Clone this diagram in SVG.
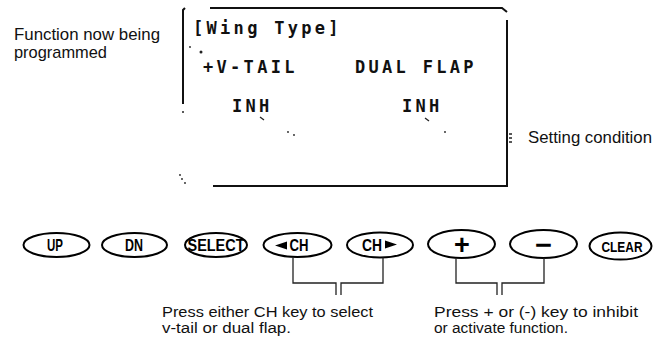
<svg xmlns="http://www.w3.org/2000/svg" width="653" height="346" viewBox="0 0 653 346">
<style>
.lbl{font-family:"Liberation Sans",Arial,sans-serif;font-size:17px;fill:#111}
.cap{font-family:"Liberation Sans",Arial,sans-serif;font-size:15.5px;fill:#111}
.lcd{font-family:"DejaVu Sans Mono","Liberation Mono",monospace;font-weight:bold;font-size:17px;letter-spacing:3.3px;fill:#111}
.key{fill:#fff;stroke:#000;stroke-width:2}
.keyt{font-family:"Liberation Sans",Arial,sans-serif;font-weight:bold;font-size:16.5px;fill:#000;text-anchor:middle}
.big{font-size:27px}
.ln{fill:none;stroke:#222;stroke-width:1.3}
.frame{fill:none;stroke:#111;stroke-width:2}
.dot{fill:#222}
</style>
<rect width="653" height="346" fill="#fff"/>
<g id="lcd">
<path class="frame" d="M210 8 H502 L507 12"/>
<path class="frame" d="M185 8 L183 10 V104"/>
<path class="frame" d="M213 186 H507 V20"/>
<path class="ln" d="M509 134 h3 M509 138 h3 M509 142 h3"/>
<text class="lcd" x="193" y="34">[Wing Type]</text>
<text class="lcd" x="203" y="73">+V-TAIL</text>
<text class="lcd" x="355" y="73">DUAL FLAP</text>
<text class="lcd" x="232" y="112">INH</text>
<text class="lcd" x="402" y="112">INH</text>
<circle class="dot" cx="190" cy="47" r="0.9"/>
<circle class="dot" cx="201" cy="52" r="1.5"/>
<circle class="dot" cx="183" cy="112" r="1"/>
<path class="ln" d="M260 117 L264 120"/>
<circle class="dot" cx="288" cy="132" r="0.9"/>
<circle class="dot" cx="294" cy="135" r="0.9"/>
<path class="ln" d="M425 118 L429 121"/>
<circle class="dot" cx="445" cy="132" r="0.9"/>
<circle class="dot" cx="180" cy="175" r="0.9"/>
<circle class="dot" cx="182" cy="179" r="0.9"/>
<circle class="dot" cx="185" cy="183" r="0.9"/>
</g>
<g id="labels">
<text class="lbl" x="14" y="40" textLength="146" lengthAdjust="spacingAndGlyphs">Function now being</text>
<text class="lbl" x="14" y="58" textLength="93" lengthAdjust="spacingAndGlyphs">programmed</text>
<text class="lbl" x="528" y="143" textLength="124" lengthAdjust="spacingAndGlyphs">Setting condition</text>
<text class="cap" x="162" y="317" textLength="211" lengthAdjust="spacingAndGlyphs">Press either CH key to select</text>
<text class="cap" x="162" y="333" textLength="129" lengthAdjust="spacingAndGlyphs">v-tail or dual flap.</text>
<text class="cap" x="434" y="317" textLength="204" lengthAdjust="spacingAndGlyphs">Press + or (-) key to inhibit</text>
<text class="cap" x="434" y="333" textLength="134" lengthAdjust="spacingAndGlyphs">or activate function.</text>
</g>
<g id="key-up"><ellipse class="key" cx="56.5" cy="245" rx="33" ry="12"/><text class="keyt" x="55" y="251" textLength="16" lengthAdjust="spacingAndGlyphs">UP</text></g>
<g id="key-dn"><ellipse class="key" cx="134.5" cy="245" rx="32.5" ry="12"/><text class="keyt" x="134" y="251" textLength="18" lengthAdjust="spacingAndGlyphs">DN</text></g>
<g id="key-select"><ellipse class="key" cx="216" cy="245" rx="31" ry="12" stroke-width="2.4"/><text class="keyt" x="216" y="251" textLength="57" lengthAdjust="spacingAndGlyphs">SELECT</text></g>
<g id="key-chl"><ellipse class="key" cx="297.5" cy="245" rx="34" ry="12"/><polygon points="275,245.5 287,241.5 287,249.5" fill="#000"/><text class="keyt" x="299" y="251" textLength="19" lengthAdjust="spacingAndGlyphs">CH</text></g>
<g id="key-chr"><ellipse class="key" cx="380" cy="245" rx="33" ry="12.5"/><text class="keyt" x="372" y="251" textLength="20" lengthAdjust="spacingAndGlyphs">CH</text><polygon points="397,244.5 385,240.5 385,248.5" fill="#000"/></g>
<g id="key-plus"><ellipse class="key" cx="461.5" cy="244" rx="33.5" ry="14"/><text class="keyt big" x="462" y="254" font-weight="900">+</text></g>
<g id="key-minus"><ellipse class="key" cx="543.5" cy="244" rx="33.5" ry="14"/><text class="keyt big" x="543.5" y="254" textLength="17" lengthAdjust="spacingAndGlyphs">−</text></g>
<g id="key-clear"><ellipse class="key" cx="620.5" cy="246" rx="31" ry="13.5" stroke-width="2.4"/><text class="keyt" x="622" y="252" style="font-size:15px" textLength="41" lengthAdjust="spacingAndGlyphs">CLEAR</text></g>
<g id="connectors">
<path class="ln" d="M293 257 V283 H336 V295"/>
<path class="ln" d="M383 257.5 V283 H341 V295"/>
<path class="ln" d="M456 258 V283 H497 V295"/>
<path class="ln" d="M544 258 V283 H502 V295"/>
</g>
</svg>
